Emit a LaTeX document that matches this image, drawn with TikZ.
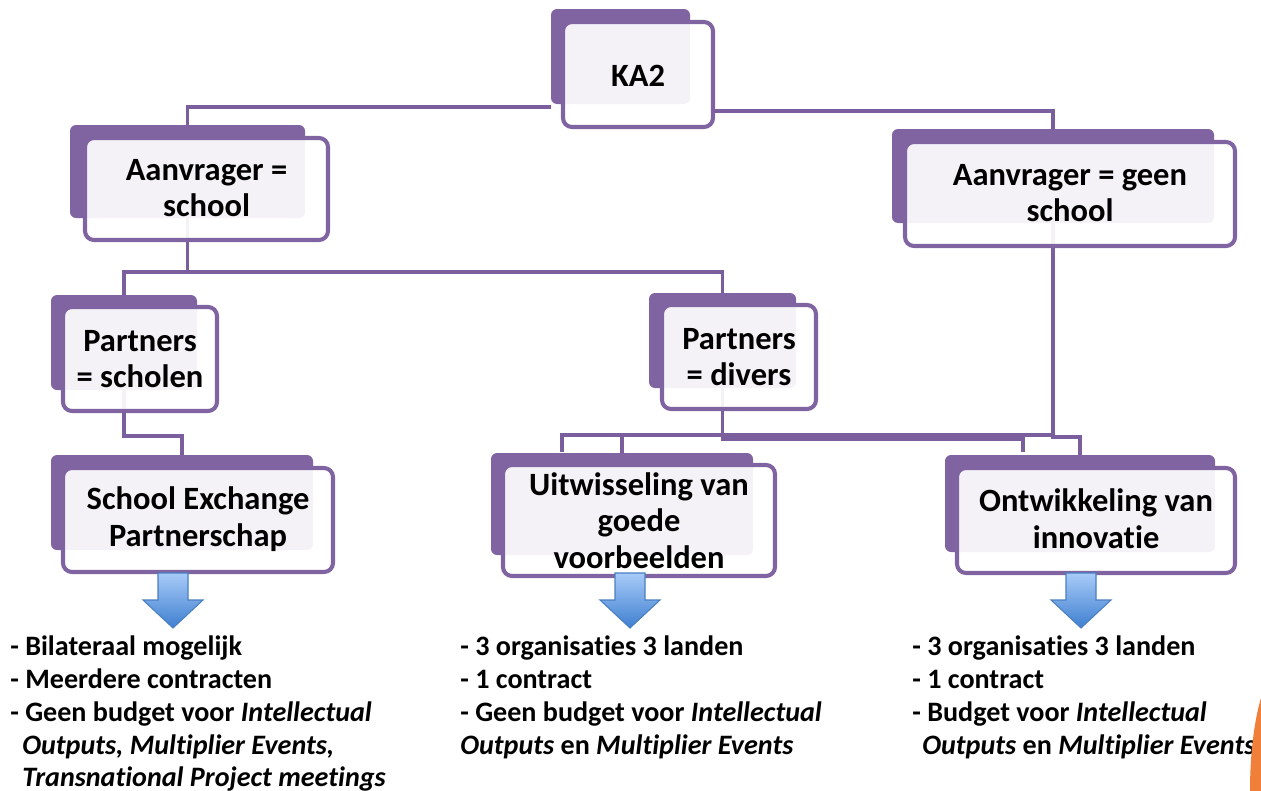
\documentclass[tikz,border=0pt]{standalone}
\usepackage{fontspec}
\setmainfont{Carlito}[Ligatures={NoCommon}]
\usetikzlibrary{fit,calc}
\definecolor{pur}{HTML}{8064A2}
\definecolor{conncol}{HTML}{7A5E9E}
\definecolor{arrtop}{HTML}{A8CBF8}
\definecolor{arrbot}{HTML}{3F7FD0}
\definecolor{arredge}{HTML}{4A7FC0}
\definecolor{orng}{HTML}{F07F3A}
\begin{document}
\begin{tikzpicture}[x=0.02cm,y=-0.02cm,
 backbox/.style={fill=pur, draw=none, rounded corners=0.12cm, inner sep=0pt},
 frontbox/.style={fill=white, fill opacity=0.92, draw=pur, draw opacity=1, line width=2.3pt, rounded corners=0.18cm, inner sep=0pt},
 boxtext/.style={inner sep=0pt, align=center, font=\fontsize{18.5}{20.8}\selectfont\bfseries},
 conn/.style={draw=conncol, line width=2.2pt},
 listtxt/.style={anchor=base west, inner sep=0pt, font=\fontsize{16}{19}\selectfont\bfseries},
 bluearrow/.style={top color=arrtop, bottom color=arrbot, draw=arredge, line width=0.6pt}]
\useasboundingbox (0,0) rectangle (1261,791);

% back boxes
\node[backbox, fit={(551,9) (690,104)}] (ka2b) {};
\node[backbox, fit={(70,125) (305,218)}] (asb) {};
\node[backbox, fit={(892,129) (1214,223)}] (agb) {};
\node[backbox, fit={(51,295) (197,390)}] (psb) {};
\node[backbox, fit={(649,293) (796,388)}] (pdb) {};
\node[backbox, fit={(51,455) (313,550)}] (seb) {};
\node[backbox, fit={(491,453) (753,555)}] (uib) {};
\node[backbox, fit={(945,455) (1215,552)}] (ontb) {};

% named free ends
\coordinate (h1) at (562,435);
\coordinate (h2) at (1023,452);

% connectors (behind front boxes)
\draw[conn] (asb.north) |- ($(ka2b.south west)+(0,3)$);
\draw[conn] ($(ka2b.south east)+(23,7)$) -| (agb.north);
\draw[conn] (asb.south) -- ++(0,54) coordinate (j1);
\draw[conn] (psb.north) |- (j1) -| (pdb.north);
\draw[conn] (psb.south) -- ++(0,46) -| (seb.north);
\draw[conn] (agb.south) |- (h1) -- ++(0,17);
\draw[conn] (uib.north) -- (uib.north |- h1);
\draw[conn] (pdb.south) -- ++(0,51) -| (h2);
\draw[conn] (agb.south |- h1) -- ++(0,2) -| (ontb.north);

% front boxes
\node[frontbox, fit={(563,22) (713,127)}] (ka2) {};
\node[frontbox, fit={(85,138) (328,240)}] (as) {};
\node[frontbox, fit={(905,142) (1235,246)}] (ag) {};
\node[frontbox, fit={(63,307) (217,411)}] (ps) {};
\node[frontbox, fit={(662,305) (816,409)}] (pd) {};
\node[frontbox, fit={(63,468) (333,572)}] (se) {};
\node[frontbox, fit={(503,465) (775,576)}] (ui) {};
\node[frontbox, fit={(957,468) (1235,573)}] (ont) {};

% box texts
\node[boxtext] (ka2t) at ($(ka2.center)+(0,1)$) {KA2};
\node[boxtext] (ast) at ($(as.center)+(0,-1)$) {Aanvrager =\\school};
\node[boxtext] (agt) at ($(ag.center)+(0,-1)$) {Aanvrager = geen\\school};
\node[boxtext] (pst) at ($(ps.center)+(0,0)$) {Partners\\= scholen};
\node[boxtext] (pdt) at ($(pd.center)+(0,0)$) {Partners\\= divers};
\node[boxtext] (set) at ($(se.center)+(0,-1)$) {School Exchange\\Partnerschap};
\node[boxtext] (uit) at ($(ui.center)+(0,0)$) {Uitwisseling van\\goede\\voorbeelden};
\node[boxtext] (ontt) at ($(ont.center)+(0,-2)$) {Ontwikkeling van\\innovatie};

% blue arrows
\foreach \cx in {173,630,1081}{
  \path[bluearrow] (\cx-15,573) -- (\cx+15,573) -- (\cx+15,600) -- (\cx+30,600) -- (\cx,628) -- (\cx-30,600) -- (\cx-15,600) -- cycle;
}

% lists
\node[listtxt] (l1) at (10,655) {- Bilateraal mogelijk};
\node[listtxt] (l2) at (10,688) {- Meerdere contracten};
\node[listtxt] (l3) at (10,721) {- Geen budget voor \textit{Intellectual}};
\node[listtxt] (l4) at (22,754) {\textit{Outputs, Multiplier Events,}};
\node[listtxt] (l5) at (22,786) {\textit{Transnational Project meetings}};

\node[listtxt] (m1) at (460,655) {- 3 organisaties 3 landen};
\node[listtxt] (m2) at (460,688) {- 1 contract};
\node[listtxt] (m3) at (460,721) {- Geen budget voor \textit{Intellectual}};
\node[listtxt] (m4) at (460,754) {\textit{Outputs} en \textit{Multiplier Events}};

\node[listtxt] (r1) at (912,655) {- 3 organisaties 3 landen};
\node[listtxt] (r2) at (912,688) {- 1 contract};
\node[listtxt] (r3) at (912,721) {- Budget voor \textit{Intellectual}};
\node[listtxt] (r4) at (922,754) {\textit{Outputs} en \textit{Multiplier Events}};

% orange corner shape
\fill[orng] (1261,698) .. controls (1253,725) and (1250,760) .. (1250,791) -- (1261,791) -- cycle;
\end{tikzpicture}
\end{document}
